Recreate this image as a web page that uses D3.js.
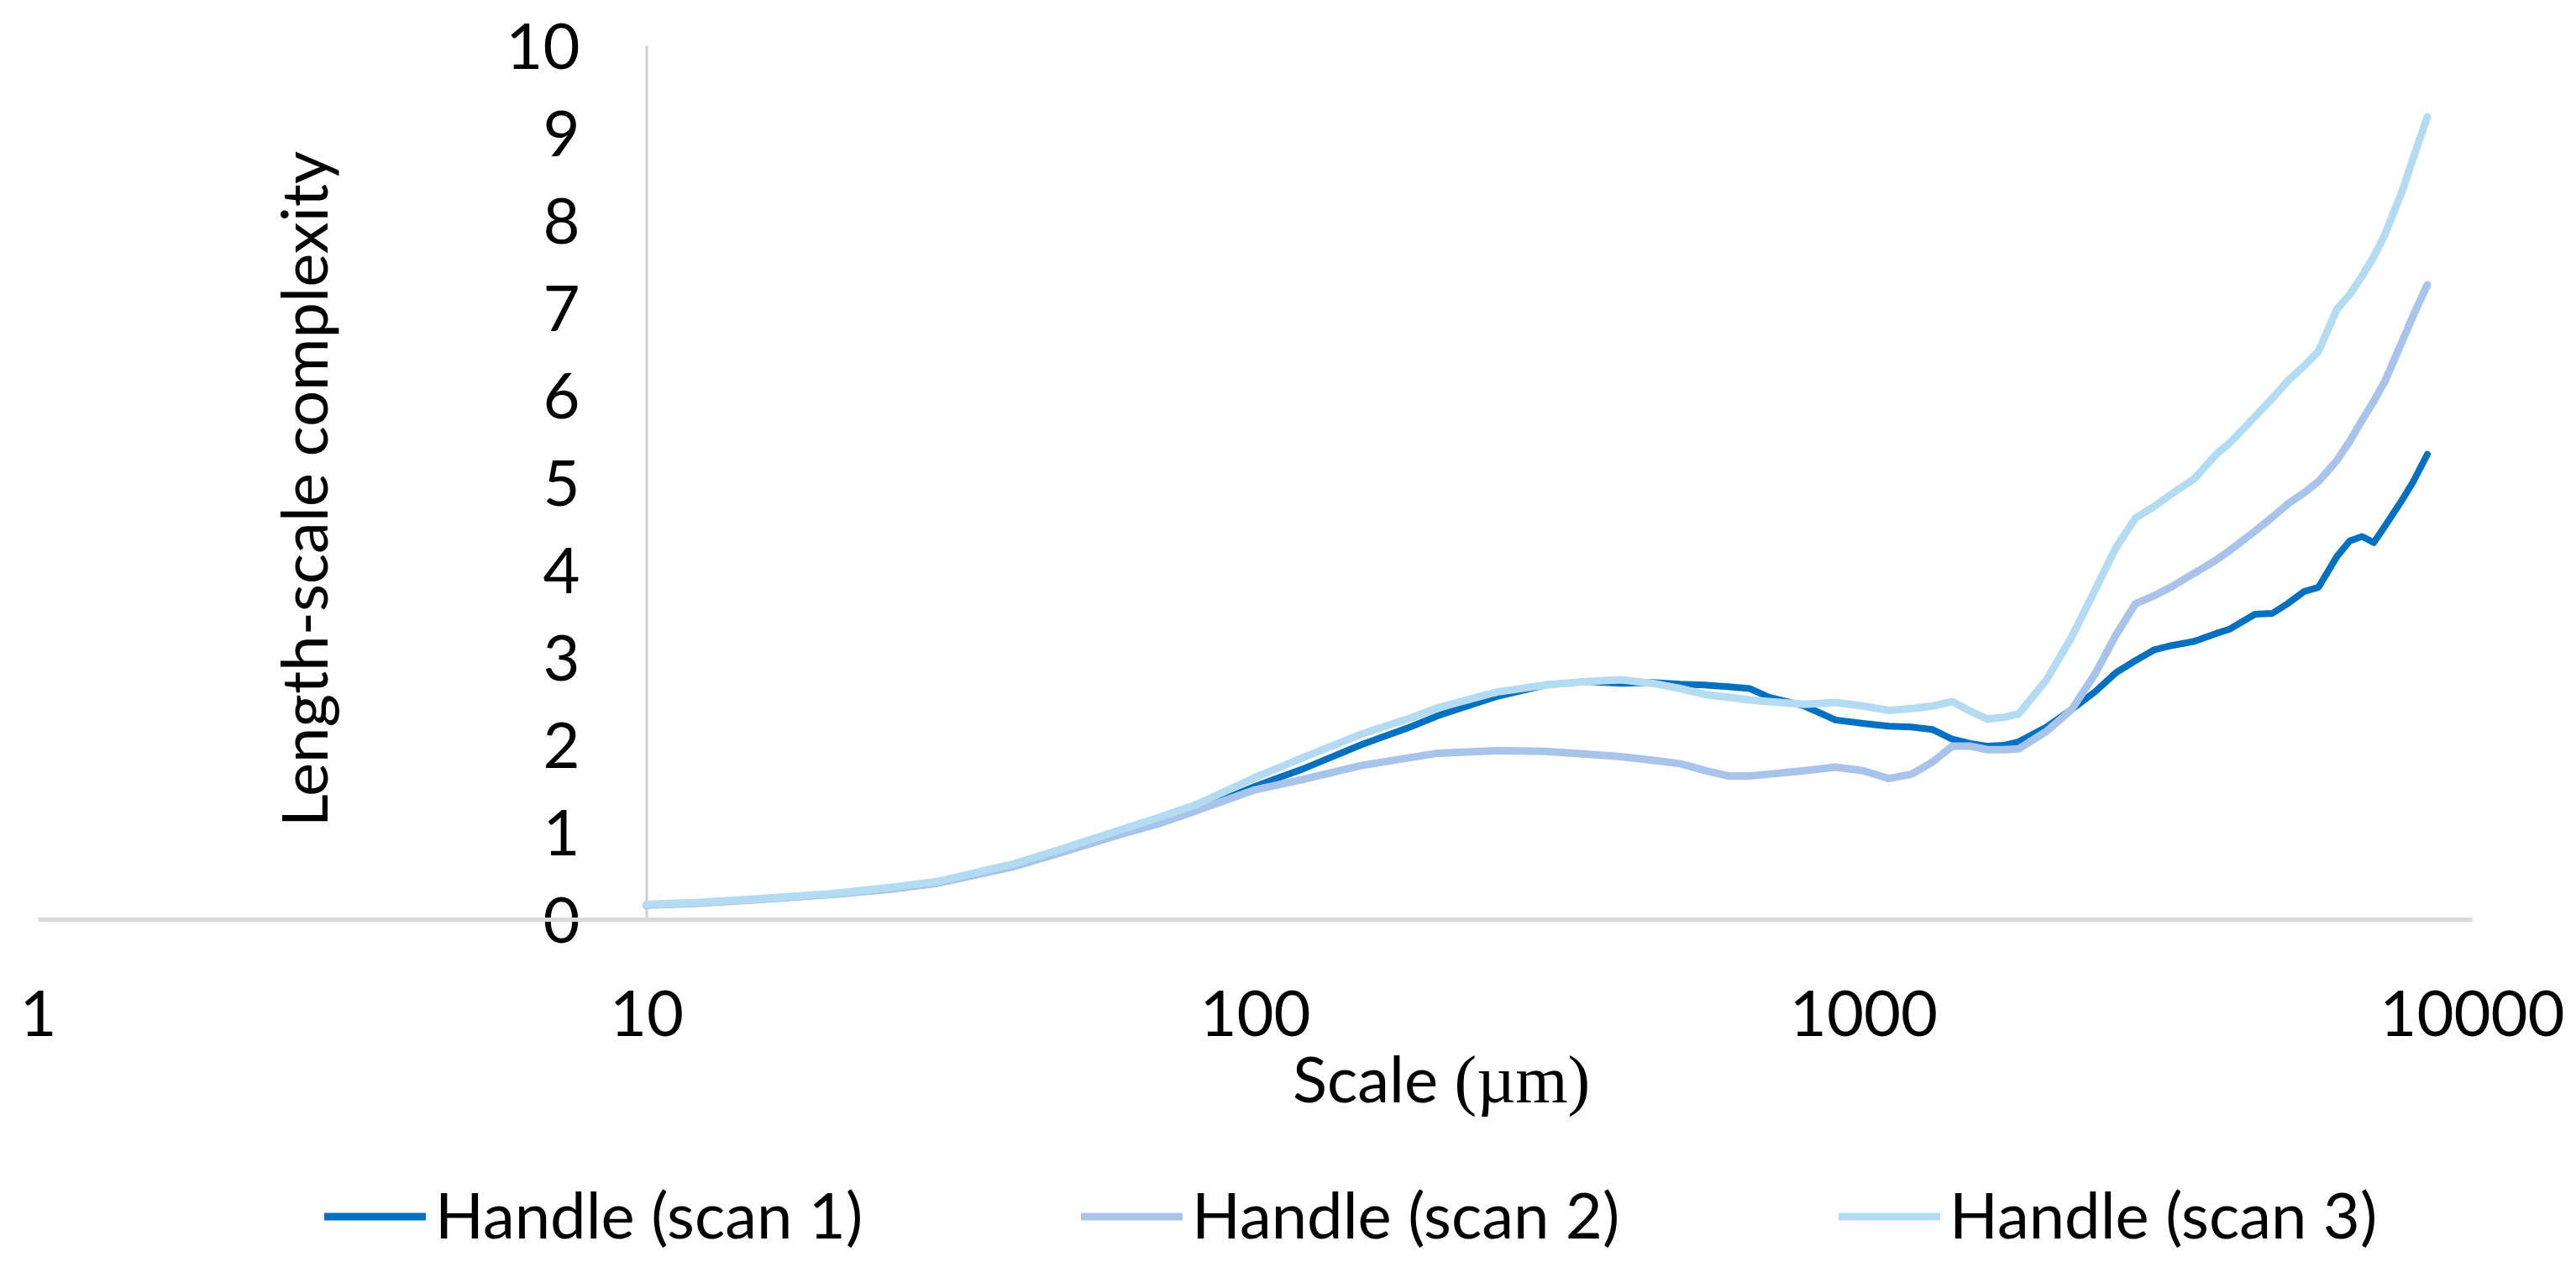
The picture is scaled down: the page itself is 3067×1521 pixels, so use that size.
<!DOCTYPE html>
<html>
<head>
<meta charset="utf-8">
<script src="https://cdn.jsdelivr.net/npm/d3@7"></script>
<style>
  html, body { margin: 0; padding: 0; background: #ffffff; }
  svg { display: block; }
  text { font-family: Lato, "Open Sans", sans-serif; fill: #000; }
</style>
</head>
<body>
<svg id="chart" width="3067" height="1521"></svg>
<script>
// ---- data ----
const scales = [10, 12, 15, 20, 25, 30, 40, 50, 60, 70, 80, 100, 120, 150, 180, 200, 250, 300, 350, 400,
  450, 500, 550, 600, 650, 700, 800, 900, 1000, 1100, 1200, 1300, 1400, 1500, 1600, 1700, 1800, 2000,
  2200, 2400, 2600, 2800, 3000, 3200, 3500, 3800, 4000, 4400, 4700, 5000, 5300, 5600, 6000, 6300,
  6600, 6900, 7200, 7700, 8000, 8450];

const scan1 = [0.16, 0.18, 0.22, 0.28, 0.34, 0.41, 0.60, 0.80, 0.97, 1.10, 1.24, 1.52, 1.72, 2.00, 2.20, 2.33,
  2.55, 2.68, 2.72, 2.70, 2.71, 2.69, 2.68, 2.66, 2.64, 2.54, 2.44, 2.28, 2.24, 2.21, 2.20, 2.17, 2.06,
  2.01, 1.98, 1.99, 2.03, 2.20, 2.40, 2.60, 2.82, 2.96, 3.08, 3.13, 3.18, 3.27, 3.32, 3.49, 3.50, 3.62,
  3.75, 3.80, 4.15, 4.33, 4.38, 4.31, 4.50, 4.81, 5.00, 5.32];

const scan2 = [0.16, 0.18, 0.22, 0.28, 0.34, 0.41, 0.60, 0.80, 0.97, 1.10, 1.24, 1.48, 1.60, 1.76, 1.85, 1.90,
  1.93, 1.92, 1.89, 1.86, 1.82, 1.78, 1.70, 1.64, 1.64, 1.66, 1.70, 1.74, 1.70, 1.61, 1.66, 1.80, 1.98,
  1.98, 1.94, 1.94, 1.95, 2.15, 2.40, 2.80, 3.25, 3.61, 3.70, 3.80, 3.96, 4.11, 4.22, 4.44, 4.60, 4.76,
  4.88, 5.01, 5.25, 5.47, 5.71, 5.93, 6.16, 6.63, 6.90, 7.26];

const scan3 = [0.17, 0.19, 0.23, 0.29, 0.36, 0.43, 0.63, 0.84, 1.02, 1.17, 1.31, 1.62, 1.85, 2.12, 2.30, 2.42,
  2.60, 2.68, 2.72, 2.74, 2.70, 2.64, 2.57, 2.54, 2.51, 2.49, 2.46, 2.48, 2.44, 2.39, 2.41, 2.44, 2.49,
  2.38, 2.29, 2.31, 2.35, 2.74, 3.23, 3.76, 4.25, 4.59, 4.72, 4.86, 5.04, 5.32, 5.45, 5.75, 5.96, 6.17,
  6.33, 6.50, 6.98, 7.15, 7.36, 7.58, 7.84, 8.35, 8.70, 9.18];

const seriesNames = ["Handle (scan 1)", "Handle (scan 2)", "Handle (scan 3)"];
const seriesColors = ["#0070C0", "#A9C4EB", "#B3DCF3"];
const xTickValues = [1, 10, 100, 1000, 10000];
const yTickValues = [0, 1, 2, 3, 4, 5, 6, 7, 8, 9, 10];
const xTitle = "Scale ";
const xTitleUnit = "(\u00B5m)";
const yTitle = "Length-scale complexity";

// ---- layout ----
const svg = d3.select("#chart");
const x = d3.scaleLog().domain([1, 10000]).range([45, 2943]);
const y = d3.scaleLinear().domain([0, 10]).range([1094, 54]);
const FONT = 76;

// y axis (crosses at x = 10)
const yAxisG = svg.append("g")
  .attr("transform", `translate(${x(10)},0)`)
  .call(d3.axisLeft(y).tickValues(yTickValues).tickSize(0).tickPadding(79).tickFormat(d3.format("d")));
yAxisG.select(".domain").attr("stroke", "#d0d0d0").attr("stroke-width", 3);
yAxisG.selectAll("text").attr("font-size", FONT).attr("font-family", "Lato, sans-serif")
  .attr("fill", "#000").attr("dy", "0.36em");

// x axis
const xAxisG = svg.append("g")
  .attr("transform", `translate(0,${y(0)})`)
  .call(d3.axisBottom(x).tickValues(xTickValues).tickSize(0).tickPadding(85).tickFormat(d3.format("d")));
xAxisG.select(".domain").attr("stroke", "#d9d9d9").attr("stroke-width", 5);
xAxisG.selectAll("text").attr("font-size", FONT).attr("font-family", "Lato, sans-serif").attr("fill", "#000");

// lines
const allSeries = [scan1, scan2, scan3];
const widths = [8, 9, 9];
const line = d3.line()
  .x((d, i) => x(scales[i]))
  .y(d => y(d))
  .curve(d3.curveLinear);

svg.append("g").selectAll("path")
  .data(allSeries)
  .join("path")
  .attr("d", d => line(d))
  .attr("fill", "none")
  .attr("stroke", (d, i) => seriesColors[i])
  .attr("stroke-width", (d, i) => widths[i])
  .attr("stroke-linejoin", "round")
  .attr("stroke-linecap", "round");

// axis titles
const xt = svg.append("text")
  .attr("x", 1716).attr("y", 1312)
  .attr("text-anchor", "middle")
  .attr("font-size", FONT);
xt.append("tspan").text(xTitle);
xt.append("tspan").attr("font-family", "'Liberation Serif', 'DejaVu Serif', serif").attr("font-size", 80).text(xTitleUnit);

svg.append("text")
  .attr("transform", "translate(390,582) rotate(-90)")
  .attr("text-anchor", "middle")
  .attr("font-size", FONT)
  .text(yTitle);

// legend
const legendX = [386, 1287, 2189];
const lg = svg.append("g").selectAll("g")
  .data(seriesNames)
  .join("g")
  .attr("transform", (d, i) => `translate(${legendX[i]},1448)`);
lg.append("line")
  .attr("x1", 0).attr("x2", 121).attr("y1", 0).attr("y2", 0)
  .attr("stroke", (d, i) => seriesColors[i])
  .attr("stroke-width", 9);
lg.append("text")
  .attr("x", 132).attr("y", 26)
  .attr("font-size", FONT)
  .text(d => d);
</script>
</body>
</html>
